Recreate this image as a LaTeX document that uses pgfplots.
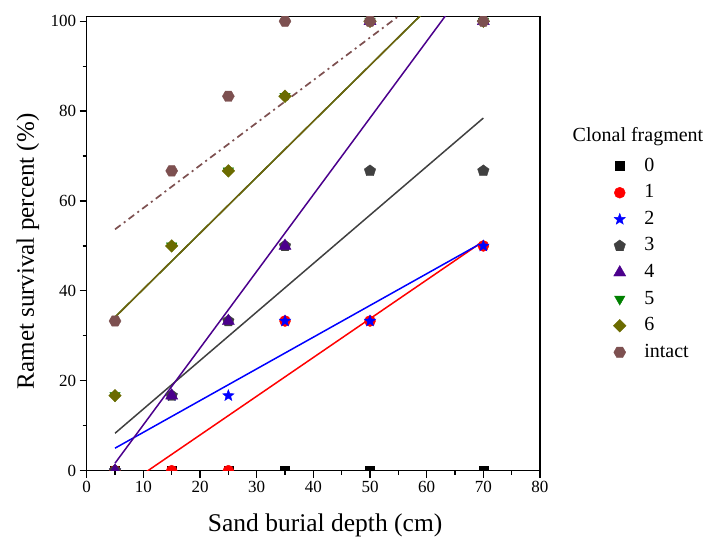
\documentclass[border=0pt]{standalone}
\usepackage{fontspec}
\setmainfont{Liberation Serif}
\usepackage{pgfplots}
\pgfplotsset{compat=1.18}
\usetikzlibrary{plotmarks}
\definecolor{cgray}{RGB}{64,64,64}
\definecolor{cpurple}{RGB}{75,0,140}
\definecolor{cgreen}{RGB}{0,128,0}
\definecolor{colive}{RGB}{107,107,0}
\definecolor{coliveline}{RGB}{115,95,15}
\definecolor{cbrown}{RGB}{125,80,80}
\pgfdeclareplotmark{fstar}{%
  \pgfpathmoveto{\pgfqpointpolar{90}{\pgfplotmarksize}}%
  \pgfpathlineto{\pgfqpointpolar{126}{0.42\pgfplotmarksize}}%
  \pgfpathlineto{\pgfqpointpolar{162}{\pgfplotmarksize}}%
  \pgfpathlineto{\pgfqpointpolar{198}{0.42\pgfplotmarksize}}%
  \pgfpathlineto{\pgfqpointpolar{234}{\pgfplotmarksize}}%
  \pgfpathlineto{\pgfqpointpolar{270}{0.42\pgfplotmarksize}}%
  \pgfpathlineto{\pgfqpointpolar{306}{\pgfplotmarksize}}%
  \pgfpathlineto{\pgfqpointpolar{342}{0.42\pgfplotmarksize}}%
  \pgfpathlineto{\pgfqpointpolar{18}{\pgfplotmarksize}}%
  \pgfpathlineto{\pgfqpointpolar{54}{0.42\pgfplotmarksize}}%
  \pgfpathclose\pgfusepathqfillstroke}
\pgfdeclareplotmark{hexa}{%
  \pgfpathmoveto{\pgfqpointpolar{0}{\pgfplotmarksize}}%
  \pgfpathlineto{\pgfqpointpolar{60}{\pgfplotmarksize}}%
  \pgfpathlineto{\pgfqpointpolar{120}{\pgfplotmarksize}}%
  \pgfpathlineto{\pgfqpointpolar{180}{\pgfplotmarksize}}%
  \pgfpathlineto{\pgfqpointpolar{240}{\pgfplotmarksize}}%
  \pgfpathlineto{\pgfqpointpolar{300}{\pgfplotmarksize}}%
  \pgfpathclose\pgfusepathqfillstroke}
\pgfdeclareplotmark{dtri}{%
  \pgfpathmoveto{\pgfqpointpolar{270}{\pgfplotmarksize}}%
  \pgfpathlineto{\pgfqpointpolar{30}{\pgfplotmarksize}}%
  \pgfpathlineto{\pgfqpointpolar{150}{\pgfplotmarksize}}%
  \pgfpathclose\pgfusepathqfillstroke}
\pgfdeclareplotmark{sdiam}{%
  \pgfpathmoveto{\pgfqpointpolar{90}{\pgfplotmarksize}}%
  \pgfpathlineto{\pgfqpointpolar{0}{\pgfplotmarksize}}%
  \pgfpathlineto{\pgfqpointpolar{270}{\pgfplotmarksize}}%
  \pgfpathlineto{\pgfqpointpolar{180}{\pgfplotmarksize}}%
  \pgfpathclose\pgfusepathqfillstroke}
\begin{document}
\begin{tikzpicture}
\begin{axis}[
  scale only axis, width=453.3pt, height=454pt,
  xmin=0, xmax=80, ymin=0, ymax=101,
  xtick={0,10,...,80}, ytick={0,20,...,100},
  minor xtick={5,15,...,75}, minor ytick={10,30,...,90},
  tick align=outside, major tick length=7pt, minor tick length=4pt,
  xtick pos=bottom, ytick pos=left,
  axis line style={line width=1.2pt},
  every tick/.style={black, line width=1.2pt},
  tick label style={font=\fontsize{17}{20}\selectfont},
  /pgf/number format/assume math mode=true,
  xlabel={Sand burial depth (cm)},
  ylabel={Ramet survival percent (\%)},
  every axis x label/.style={at={(axis description cs:0.526,-0.12)}, anchor=center, font=\fontsize{25.5}{29}\selectfont},
  every axis y label/.style={at={(axis description cs:-0.13,0.483)}, rotate=90, anchor=center, font=\fontsize{25}{29}\selectfont},
  clip marker paths=true,
  legend style={at={(rel axis cs:1.155,0.705)}, anchor=north west, draw=none, fill=none,
    font=\fontsize{20}{24}\selectfont, legend cell align=left,
    nodes={text height=14pt, text depth=4pt, inner sep=4.3pt},
    /tikz/every odd column/.append style={column sep=14pt}},
]
% regression lines
\addplot[forget plot, black, line width=1.5pt] coordinates {(5,0) (70,0)};
\addplot[forget plot, red, line width=1.5pt] coordinates {(5,-5.0) (70,51.06)};
\addplot[forget plot, blue, line width=1.5pt] coordinates {(5,5.01) (70,50.87)};
\addplot[forget plot, cgray, line width=1.5pt] coordinates {(5,8.33) (70,78.45)};
\addplot[forget plot, cpurple, line width=1.5pt] coordinates {(5,1.67) (70,112.6)};
\addplot[forget plot, cgreen, line width=1.5pt] coordinates {(5,34.17) (70,115.07)};
\addplot[forget plot, coliveline, line width=1.5pt] coordinates {(5,34.17) (70,115.07)};
\addplot[forget plot, cbrown, line width=1.7pt, dash pattern=on 7pt off 4pt on 2pt off 4pt] coordinates {(5,53.7) (70,115.3)};
% data
\addplot[only marks, mark=square*, mark size=4.5pt, black] coordinates {(5,0) (15,0) (25,0) (35,0) (50,0) (70,0)};
\addlegendentry{0}
\addplot[only marks, mark=*, mark size=5.5pt, red] coordinates {(5,0) (15,0) (25,0) (35,33.3) (50,33.3) (70,50)};
\addlegendentry{1}
\addplot[only marks, mark=fstar, mark size=6pt, blue] coordinates {(5,0) (15,16.7) (25,16.7) (35,33.3) (50,33.3) (70,50)};
\addlegendentry{2}
\addplot[only marks, mark=pentagon*, mark size=6pt, cgray] coordinates {(5,0) (15,16.7) (25,33.3) (35,50) (50,66.7) (70,66.7)};
\addlegendentry{3}
\addplot[only marks, mark=triangle*, mark size=7pt, cpurple] coordinates {(5,0) (15,16.7) (25,33.3) (35,50) (50,100) (70,100)};
\addlegendentry{4}
\addplot[only marks, mark=dtri, mark size=6pt, cgreen] coordinates {(5,16.7) (15,50) (25,66.7) (35,83.3) (50,100) (70,100)};
\addlegendentry{5}
\addplot[only marks, mark=sdiam, mark size=6.3pt, colive] coordinates {(5,16.7) (15,50) (25,66.7) (35,83.3) (50,100) (70,100)};
\addlegendentry{6}
\addplot[only marks, mark=hexa, mark size=6pt, cbrown] coordinates {(5,33.3) (15,66.7) (25,83.3) (35,100) (50,100) (70,100)};
\addlegendentry{intact}
\end{axis}
\node[font=\fontsize{20}{24}\selectfont] at ([shift={(551.3pt,333.7pt)}]current axis.south west) {Clonal fragment};
\path[use as bounding box] ([shift={(-86.7pt,-72.3pt)}]current axis.south west) rectangle ++(710pt,543pt);
\end{tikzpicture}
\end{document}
